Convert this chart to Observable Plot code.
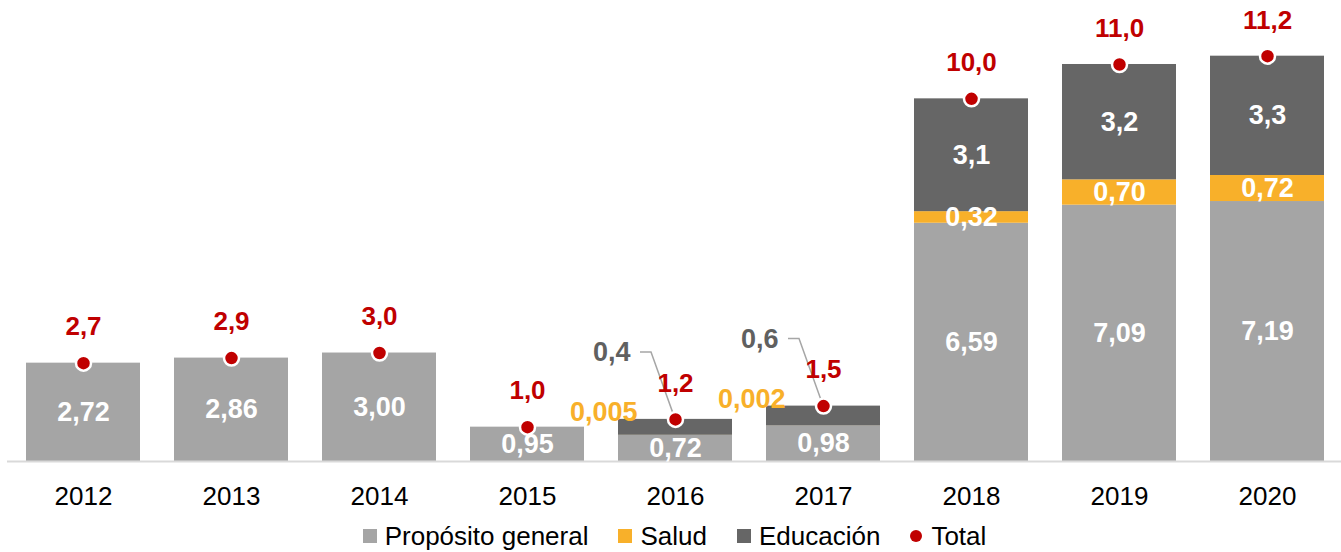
<!DOCTYPE html>
<html>
<head>
<meta charset="utf-8">
<script src="https://cdn.jsdelivr.net/npm/d3@7"></script>
<script src="https://cdn.jsdelivr.net/npm/@observablehq/plot@0.6"></script>
<style>
  body { margin: 0; background: #fff; font-family: "Liberation Sans", Arial, sans-serif; }
  #chart svg { display: block; }
  #legend { display: flex; justify-content: center; align-items: center; height: 32px; font-size: 26px; color: #000; padding-left: 8px; }
  .item { display: flex; align-items: center; margin: 0 15px; }
  .sw { width: 14px; height: 14px; margin-right: 8px; }
  .dt { width: 12px; height: 12px; border-radius: 50%; margin-right: 9px; }
</style>
</head>
<body>
<div id="chart"></div>
<div id="legend"></div>
<script>
const years = ["2012","2013","2014","2015","2016","2017","2018","2019","2020"];
const general = [2.72, 2.86, 3.00, 0.95, 0.72, 0.98, 6.59, 7.09, 7.19];
const salud = [0, 0, 0, 0, 0.005, 0.002, 0.32, 0.70, 0.72];
const educacion = [0, 0, 0, 0, 0.44, 0.55, 3.12, 3.19, 3.30];
const seriesNames = ["Propósito general", "Salud", "Educación"];
const seriesColors = ["#A5A5A5", "#F8B02A", "#666666"];
const totalName = "Total";
const totalColor = "#C00000";

const fmt = (v, d) => (Math.round(v * 10 ** d + 1e-9) / 10 ** d).toFixed(d).replace(".", ",");

const rows = [];
const totals = [];
years.forEach((year, i) => {
  const vals = [general[i], salud[i], educacion[i]];
  let acc = 0;
  vals.forEach(v => acc += v);
  const top = acc;
  acc = 0;
  vals.forEach((v, k) => {
    if (v > 0) rows.push({year, k, serie: seriesNames[k], value: v, y1: acc, y2: acc + v, mid: acc + v / 2, top});
    acc += v;
  });
  totals.push({year, top});
});

const inside = rows.filter(r => r.k === 0 || (r.k === 1 && r.value >= 0.1) || (r.k === 2 && r.value >= 1));
const smallSalud = rows.filter(r => r.k === 1 && r.value < 0.1);
const smallEdu = rows.filter(r => r.k === 2 && r.value < 1);

function leaders(index, scales, values, dimensions) {
  const sx = scales.x, sy = scales.y;
  const bw = typeof sx.bandwidth === "function" ? sx.bandwidth() : (sx.bandwidth || 0);
  const g = d3.create("svg:g");
  for (const r of smallEdu) {
    const cx = sx(r.year) + bw / 2;
    const cy = sy(r.top);
    const ly = cy - 67;
    g.append("path")
      .attr("d", `M${cx - 35},${ly}H${cx - 24}L${cx},${cy}`)
      .attr("fill", "none")
      .attr("stroke", "#A6A6A6")
      .attr("stroke-width", 1.5);
  }
  return g.node();
}

const font = "'Liberation Sans', Arial, sans-serif";

const chart = Plot.plot({
  width: 1341,
  height: 520,
  marginLeft: 7,
  marginRight: -2,
  marginTop: 0,
  marginBottom: 59,
  style: {fontFamily: font, background: "#fff"},
  x: {domain: years, paddingInner: 0.23, paddingOuter: 0.115, axis: null, label: null},
  y: {domain: [0, 12.75], axis: null},
  color: {domain: seriesNames, range: seriesColors},
  marks: [
    Plot.barY(rows, {x: "year", y1: "y1", y2: "y2", fill: "serie"}),
    Plot.ruleY([0], {stroke: "#D9D9D9", strokeWidth: 2}),
    Plot.axisX({tickSize: 0, tickPadding: 25, fontSize: 26, fill: "#000", label: null}),
    Plot.text(inside, {x: "year", y: "mid", text: r => fmt(r.value, r.k === 2 ? 1 : 2), fill: "#fff", fontSize: 27, fontWeight: "bold"}),
    Plot.text(smallSalud, {x: "year", y: "top", text: r => fmt(r.value, 3), fill: seriesColors[1], fontSize: 27, fontWeight: "bold", textAnchor: "end", dx: -38, dy: -7}),
    leaders,
    Plot.text(smallEdu, {x: "year", y: "top", text: r => fmt(r.value, 1), fill: "#606060", fontSize: 27, fontWeight: "bold", textAnchor: "end", dx: -45, dy: -67}),
    Plot.dot(totals, {x: "year", y: "top", r: 7.5, fill: totalColor, stroke: "#fff", strokeWidth: 2.5}),
    Plot.text(totals, {x: "year", y: "top", text: d => fmt(d.top, 1), fill: totalColor, fontSize: 26, fontWeight: "bold", dy: -36})
  ]
});
document.getElementById("chart").appendChild(chart);

const legend = document.getElementById("legend");
seriesNames.forEach((name, k) => {
  const it = document.createElement("div");
  it.className = "item";
  it.innerHTML = `<span class="sw" style="background:${seriesColors[k]}"></span><span>${name}</span>`;
  legend.appendChild(it);
});
const tot = document.createElement("div");
tot.className = "item";
tot.innerHTML = `<span class="dt" style="background:${totalColor}"></span><span>${totalName}</span>`;
legend.appendChild(tot);
</script>
</body>
</html>
